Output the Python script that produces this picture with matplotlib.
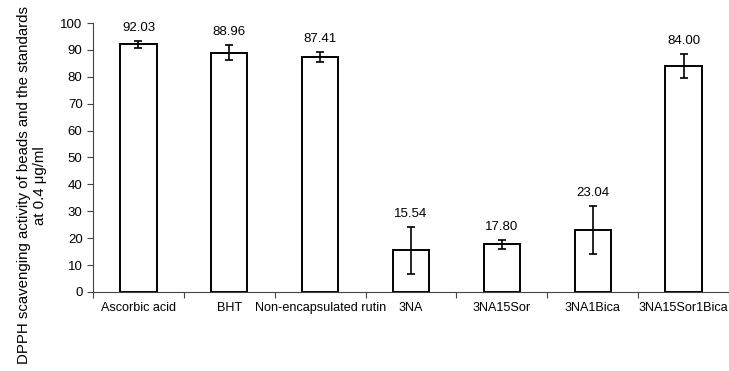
import numpy as np
import matplotlib.pyplot as plt

plt.rcParams['font.family'] = ['Liberation Sans', 'DejaVu Sans']

samples = ['Ascorbic acid', 'BHT', 'Non-encapsulated rutin', '3NA',
           '3NA15Sor', '3NA1Bica', '3NA15Sor1Bica']
activity = [92.03, 88.96, 87.41, 15.54, 17.80, 23.04, 84.00]
sd = [1.3, 2.7, 1.8, 8.8, 1.7, 8.9, 4.5]
value_labels = ['92.03', '88.96', '87.41', '15.54', '17.80', '23.04', '84.00']

fig = plt.figure(figsize=(7.29, 3.71), dpi=100)
ax = fig.add_axes([0.1276, 0.213, 0.8724, 0.725])

x = np.arange(len(samples))
ax.bar(x, activity, width=0.4, color='white', edgecolor='black', linewidth=1.4,
       yerr=sd, capsize=3, error_kw={'elinewidth': 1.2, 'capthick': 1.2, 'ecolor': 'black'})

for xi, v, e, lab in zip(x, activity, sd, value_labels):
    ax.annotate(lab, (xi, v + e), xytext=(0, 5), textcoords='offset points',
                ha='center', va='bottom', fontsize=9.5)

ax.set_xlim(-0.5, len(samples) - 0.5)
ax.set_ylim(0, 100)
ax.set_yticks(np.arange(0, 101, 10))
ax.set_xticks(np.arange(-0.5, len(samples), 1.0))
ax.set_xticklabels([])
ax.set_xticks(x, minor=True)
ax.set_xticklabels(samples, minor=True)
ax.tick_params(axis='x', which='minor', length=0, pad=7, labelsize=9.1)
ax.tick_params(axis='x', which='major', length=4, width=0.8, color='#444444')
ax.tick_params(axis='y', length=4, width=0.8, labelsize=9.5, color='#444444')

for s in ['top', 'right']:
    ax.spines[s].set_visible(False)
for s in ['left', 'bottom']:
    ax.spines[s].set_color('#444444')
    ax.spines[s].set_linewidth(0.8)

fig.text(0.044, 0.5, 'DPPH scavenging activity of beads and the standards\nat 0.4 \u03bcg/ml',
         rotation=90, ha='center', va='center', multialignment='center', fontsize=10.8)

fig.savefig('out.png', dpi=100)
